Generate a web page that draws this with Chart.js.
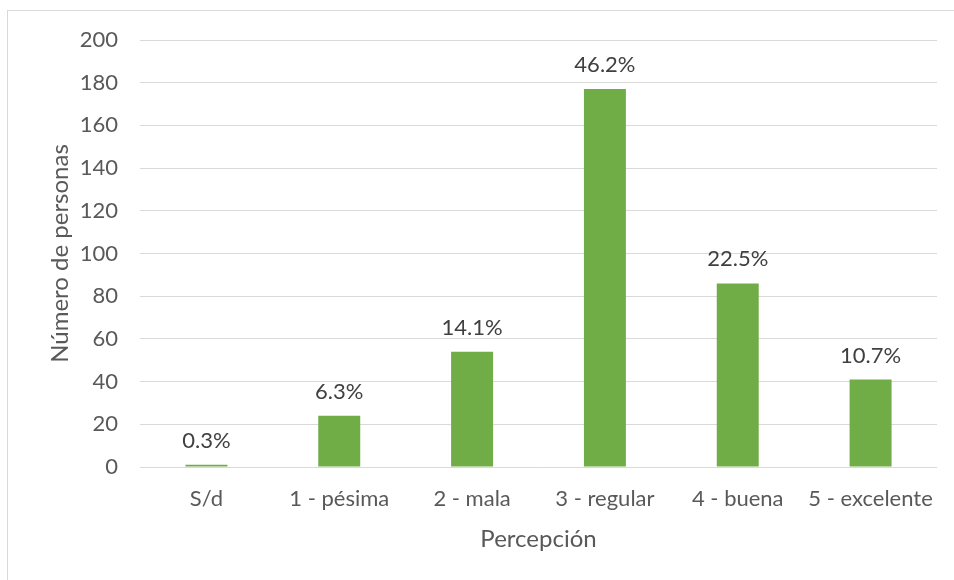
<!DOCTYPE html>
<html>
<head>
<meta charset="utf-8">
<script src="https://cdn.jsdelivr.net/npm/chart.js@4/dist/chart.umd.min.js"></script>
<style>
  html, body { margin: 0; padding: 0; background: #fff; }
  #wrap { width: 954px; height: 580px; position: relative; }
</style>
</head>
<body>
<div id="wrap"><canvas id="chart" width="954" height="580"></canvas></div>
<script>
// Chart data
const categories = ['S/d', '1 - pésima', '2 - mala', '3 - regular', '4 - buena', '5 - excelente'];
const personas = [1, 24, 54, 177, 86, 41];
const porcentajes = ['0.3%', '6.3%', '14.1%', '46.2%', '22.5%', '10.7%'];
const yTicks = [0, 20, 40, 60, 80, 100, 120, 140, 160, 180, 200];

const FONT = "Lato, 'Open Sans', sans-serif";

// Outer frame like the Excel chart area
const framePlugin = {
    id: 'frame',
    beforeDraw(chart) {
        const ctx = chart.ctx;
        ctx.save();
        ctx.strokeStyle = '#D9D9D9';
        ctx.lineWidth = 1;
        ctx.strokeRect(7.5, 10.5, 1000, 700);
        ctx.restore();
    }
};

// Percentage labels above each bar
const labelsPlugin = {
    id: 'pctLabels',
    afterDatasetsDraw(chart) {
        const ctx = chart.ctx;
        const meta = chart.getDatasetMeta(0);
        ctx.save();
        ctx.font = '22px ' + FONT;
        ctx.fillStyle = '#404040';
        ctx.textAlign = 'center';
        ctx.textBaseline = 'middle';
        meta.data.forEach((bar, i) => {
            ctx.fillText(porcentajes[i], bar.x, bar.y - 24);
        });
        ctx.restore();
    }
};

new Chart(document.getElementById('chart').getContext('2d'), {
    type: 'bar',
    data: {
        labels: categories,
        datasets: [{
            data: personas,
            backgroundColor: '#70AD47',
            borderWidth: 0,
            categoryPercentage: 1,
            barPercentage: 0.316
        }]
    },
    options: {
        responsive: false,
        animation: false,
        layout: { padding: { top: 40, right: 17, left: 0, bottom: 0 } },
        plugins: {
            legend: { display: false },
            tooltip: { enabled: false }
        },
        scales: {
            x: {
                grid: { display: false, drawTicks: false },
                border: { display: false },
                ticks: {
                    color: '#595959',
                    font: { family: FONT, size: 22 },
                    padding: 19,
                    maxRotation: 0,
                    autoSkip: false
                },
                title: {
                    display: true,
                    text: 'Percepción',
                    color: '#595959',
                    font: { family: FONT, size: 24 },
                    padding: { top: 0, bottom: 26 }
                },
                afterFit(scale) { scale.height = 113; }
            },
            y: {
                min: 0,
                max: 200,
                afterBuildTicks(scale) { scale.ticks = yTicks.map(v => ({ value: v })); },
                grid: { color: '#D9D9D9', lineWidth: 1, drawTicks: false },
                border: { display: false },
                ticks: {
                    color: '#595959',
                    font: { family: FONT, size: 22 },
                    padding: 22
                },
                title: {
                    display: true,
                    text: 'Número de personas',
                    color: '#595959',
                    font: { family: FONT, size: 24 },
                    padding: { top: 46, bottom: 0 }
                },
                afterFit(scale) { scale.width = 140; }
            }
        }
    },
    plugins: [framePlugin, labelsPlugin]
});
</script>
</body>
</html>
